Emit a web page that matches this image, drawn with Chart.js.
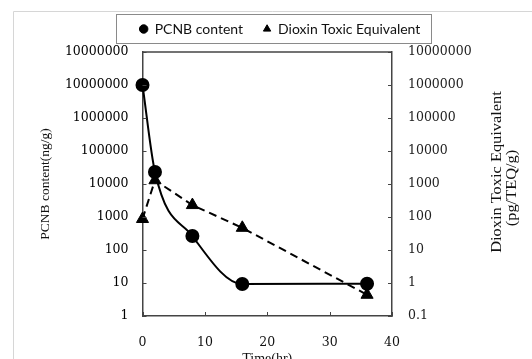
<!DOCTYPE html>
<html><head><meta charset="utf-8">
<script src="https://cdn.jsdelivr.net/npm/chart.js@4.4.1/dist/chart.umd.min.js"></script>
<style>html,body{margin:0;padding:0;background:#fff;}</style>
</head><body>
<canvas id="c" width="532" height="359"></canvas>
<script>
// ---- data ----
const timeHours = [0, 2, 8, 16, 36];
const pcnbContent = [10000000, 23000, 265, 9.3, 9.5];
const dioxinTEQ = [87, 1300, 230, 47, 0.44];
const seriesNames = ['PCNB content', 'Dioxin Toxic Equivalent'];
const xTickValues = [0, 10, 20, 30, 40];
const leftTickValues = [1, 10, 100, 1000, 10000, 100000, 1000000, 10000000, 100000000];
const leftTickLabels = ['1', '10', '100', '1000', '10000', '100000', '1000000', '10000000', '10000000'];
const rightTickValues = [0.1, 1, 10, 100, 1000, 10000, 100000, 1000000, 10000000];
const rightTickLabels = ['0.1', '1', '10', '100', '1000', '10000', '100000', '1000000', '10000000'];
const xTitle = 'Time(hr)';
const leftTitle = 'PCNB content(ng/g)';
const rightTitleLines = ['Dioxin Toxic Equivalent', '(pg/TEQ/g)'];

const tickFont = { family: 'DejaVu Serif', size: 12.5 };
const axisColor = '#444';

const decor = {
  id: 'decor',
  beforeUpdate(chart) {
    const lg = chart.legend;
    if (lg && !lg._patched) {
      const orig = lg.fit;
      lg.fit = function () { orig.call(this); this.height = 50; };
      lg._patched = true;
    }
  },
  beforeDraw(chart) {
    const ctx = chart.ctx;
    ctx.save();
    ctx.strokeStyle = '#d6d6d6';
    ctx.lineWidth = 1;
    ctx.beginPath();
    ctx.moveTo(13.5, 359); ctx.lineTo(13.5, 11.5); ctx.lineTo(532, 11.5);
    ctx.stroke();
    // legend frame
    const hb = chart.legend.legendHitBoxes;
    if (hb && hb.length) {
      const l = Math.min(...hb.map(h => h.left)) - 24;
      const r = Math.max(...hb.map(h => h.left + h.width)) + 10;
      ctx.strokeStyle = '#8a8a8a';
      ctx.strokeRect(Math.round(l) + 0.5, 14.5, Math.round(r - l), 29);
    }
    ctx.restore();
  },
  afterDraw(chart) {
    const ctx = chart.ctx;
    const a = chart.chartArea;
    const sx = chart.scales.x, sy = chart.scales.y, sy1 = chart.scales.y1;
    ctx.save();
    ctx.strokeStyle = axisColor;
    ctx.lineWidth = 1.5;
    ctx.beginPath();
    ctx.moveTo(a.left, a.top); ctx.lineTo(a.right, a.top);
    ctx.stroke();
    ctx.lineWidth = 1;
    ctx.beginPath();
    leftTickValues.forEach(v => {
      const y = Math.round(sy.getPixelForValue(v)) + 0.5;
      ctx.moveTo(a.left, y); ctx.lineTo(a.left + 4, y);
    });
    rightTickValues.forEach(v => {
      const y = Math.round(sy1.getPixelForValue(v)) + 0.5;
      ctx.moveTo(a.right, y); ctx.lineTo(a.right - 4, y);
    });
    xTickValues.forEach(v => {
      const x = Math.round(sx.getPixelForValue(v)) + 0.5;
      ctx.moveTo(x, a.bottom); ctx.lineTo(x, a.bottom - 4);
    });
    ctx.stroke();
    // right axis title (reads bottom-to-top)
    ctx.fillStyle = '#111';
    ctx.font = '14px "Liberation Serif"';
    ctx.textAlign = 'center';
    ctx.textBaseline = 'middle';
    const pos = [[497, 172], [512, 188]];
    rightTitleLines.forEach((t, i) => {
      ctx.save();
      ctx.translate(pos[i][0], pos[i][1]);
      ctx.rotate(-Math.PI / 2);
      ctx.scale(1.17, 1);
      ctx.fillText(t, 0, 0);
      ctx.restore();
    });
    ctx.restore();
  }
};

new Chart(document.getElementById('c'), {
  type: 'line',
  data: {
    datasets: [
      {
        label: seriesNames[0],
        data: timeHours.map((t, i) => ({ x: t, y: pcnbContent[i] })),
        yAxisID: 'y',
        borderColor: '#000', backgroundColor: '#000', borderWidth: 2,
        pointStyle: 'circle', pointRadius: 6, pointBackgroundColor: '#000', pointBorderColor: '#000',
        cubicInterpolationMode: 'monotone', clip: false
      },
      {
        label: seriesNames[1],
        data: timeHours.map((t, i) => ({ x: t, y: dioxinTEQ[i] })),
        yAxisID: 'y1',
        borderColor: '#000', backgroundColor: '#000', borderWidth: 2, borderDash: [8, 5],
        pointStyle: 'triangle', pointRadius: 7, pointBackgroundColor: '#000', pointBorderColor: '#000', pointBorderWidth: 1,
        tension: 0, clip: false
      }
    ]
  },
  options: {
    responsive: false,
    animation: false,
    devicePixelRatio: 1,
    layout: { padding: { top: 2, left: 28, right: 0, bottom: 0 } },
    plugins: {
      tooltip: { enabled: false },
      legend: {
        position: 'top',
        labels: {
          usePointStyle: true, boxWidth: 8, boxHeight: 6, padding: 20,
          color: '#111', font: { family: 'Lato', size: 14 },
          generateLabels(chart) {
            const items = Chart.defaults.plugins.legend.labels.generateLabels(chart);
            items.forEach(it => { it.lineDash = []; it.lineWidth = 1; it.fillStyle = '#000'; it.strokeStyle = '#000'; });
            return items;
          }
        }
      }
    },
    scales: {
      x: {
        type: 'linear', position: 'bottom', min: 0, max: 40,
        afterBuildTicks: s => { s.ticks = xTickValues.map(v => ({ value: v })); },
        afterFit: s => { s.height = 43; },
        ticks: { font: tickFont, color: '#111', padding: 19, maxRotation: 0, autoSkip: false },
        grid: { display: false, drawTicks: false },
        border: { display: true, color: axisColor, width: 1.5 },
        title: { display: true, text: xTitle, color: '#111', font: { family: 'Liberation Serif', size: 14, lineHeight: 0.5 }, padding: { top: 0, bottom: -4 } }
      },
      y: {
        type: 'logarithmic', position: 'left', min: 1, max: 100000000,
        afterBuildTicks: s => { s.ticks = leftTickValues.map(v => ({ value: v })); },
        afterFit: s => { s.width = 142.5 - 28; },
        ticks: { font: tickFont, color: '#000', padding: 14, autoSkip: false, callback: (v, i) => leftTickLabels[i] },
        grid: { display: false, drawTicks: false },
        border: { display: true, color: axisColor, width: 1.5 },
        title: { display: true, text: leftTitle, color: '#111', font: { family: 'Liberation Serif', size: 13.5 }, padding: { top: 9, bottom: 0 } }
      },
      y1: {
        type: 'logarithmic', position: 'right', min: 0.1, max: 10000000,
        afterBuildTicks: s => { s.ticks = rightTickValues.map(v => ({ value: v })); },
        afterFit: s => { s.width = 140; },
        ticks: { font: tickFont, color: '#222', padding: 16, autoSkip: false, callback: (v, i) => rightTickLabels[i] },
        grid: { display: false, drawTicks: false },
        border: { display: true, color: axisColor, width: 1.5 }
      }
    }
  },
  plugins: [decor]
});
</script>
</body></html>
